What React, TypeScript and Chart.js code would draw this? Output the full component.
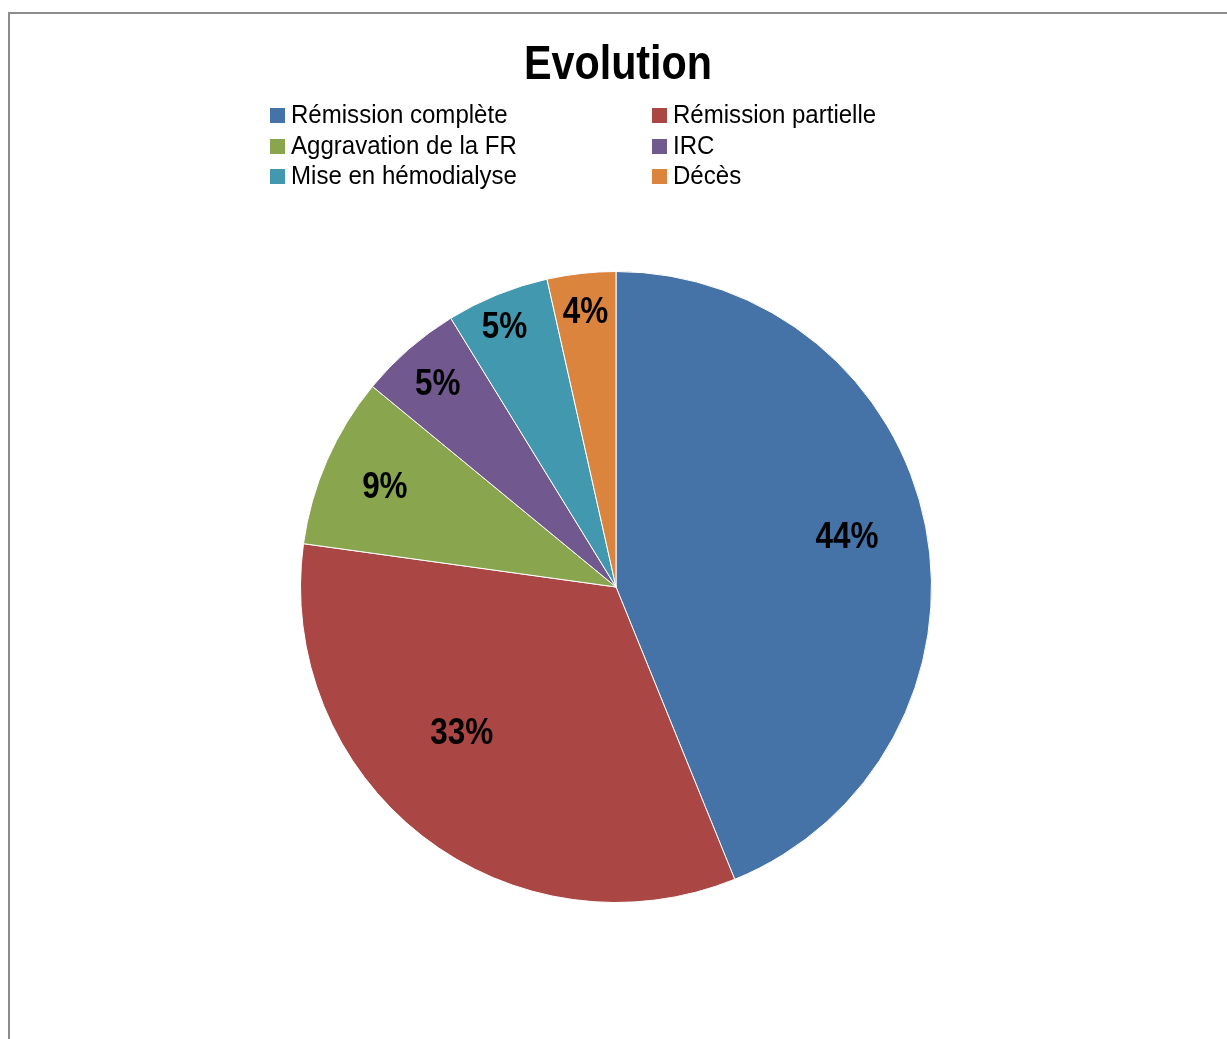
import React, { useEffect, useRef } from "react";
import { Chart, registerables } from "chart.js";

Chart.register(...registerables);

const TITLE = "Evolution";
const categories = [
  "Rémission complète",
  "Rémission partielle",
  "Aggravation de la FR",
  "IRC",
  "Mise en hémodialyse",
  "Décès",
];
const counts = [25, 19, 5, 3, 3, 2];
const colors = ["#4572A7", "#AA4643", "#89A54E", "#71588F", "#4198AF", "#DB843D"];

// label placement (styling): radial fraction and angle offset in degrees
const labelRadial = [0.75, 0.67, 0.8, 0.86, 0.9, 0.88];
const labelAngleOffset = [-1.5, 9, 0, 0, -1, 0];

const FONT = '"Liberation Sans Narrow", "Liberation Sans", Arial, sans-serif';

function drawText(ctx: CanvasRenderingContext2D, text: string, x: number, y: number, sx: number) {
  ctx.save();
  ctx.translate(x, y);
  ctx.scale(sx, 1);
  ctx.fillText(text, 0, 0);
  ctx.restore();
}

const decorPlugin = {
  id: "decor",
  afterDraw(chart: any) {
    const ctx = chart.ctx as CanvasRenderingContext2D;
    ctx.save();
    // title
    ctx.fillStyle = "#000";
    ctx.font = `bold 48px ${FONT}`;
    ctx.textAlign = "center";
    ctx.textBaseline = "alphabetic";
    drawText(ctx, TITLE, 608, 65, 0.86);
    // legend grid
    ctx.font = `26px ${FONT}`;
    ctx.textAlign = "left";
    ctx.textBaseline = "middle";
    const colX = [260, 642];
    const rowY = [101, 132, 162];
    categories.forEach((c, i) => {
      const x = colX[i % 2];
      const y = rowY[Math.floor(i / 2)];
      ctx.fillStyle = colors[i];
      ctx.fillRect(x, y - 7, 15, 15);
      ctx.fillStyle = "#000";
      drawText(ctx, c, x + 21, y + 1, 0.925);
    });
    // data labels
    const meta = chart.getDatasetMeta(0);
    const total = counts.reduce((a, b) => a + b, 0);
    ctx.font = `bold 37px ${FONT}`;
    ctx.textAlign = "center";
    ctx.textBaseline = "middle";
    ctx.fillStyle = "#000";
    meta.data.forEach((arc: any, i: number) => {
      const p = arc.getProps(["x", "y", "startAngle", "endAngle", "outerRadius"], true);
      const mid = (p.startAngle + p.endAngle) / 2 + (labelAngleOffset[i] * Math.PI) / 180;
      const r = p.outerRadius * labelRadial[i];
      const txt = Math.round((counts[i] / total) * 100) + "%";
      drawText(ctx, txt, p.x + Math.cos(mid) * r, p.y + Math.sin(mid) * r + 2, 0.85);
    });
    ctx.restore();
  },
};

export default function App() {
  const ref = useRef<HTMLCanvasElement>(null);
  useEffect(() => {
    document.body.style.overflow = "hidden";
    const chart = new Chart(ref.current!, {
      type: "pie",
      data: {
        labels: categories,
        datasets: [
          {
            data: counts,
            backgroundColor: colors,
            borderColor: "#ffffff",
            borderWidth: 1,
          },
        ],
      },
      options: {
        animation: false,
        responsive: false,
        layout: { padding: { top: 257, bottom: 136, left: 0, right: 5 } },
        plugins: {
          legend: { display: false },
          title: { display: false },
          tooltip: { enabled: false },
        },
      },
      plugins: [decorPlugin],
    });
    return () => chart.destroy();
  }, []);
  return (
    <div
      style={{
        position: "absolute",
        left: 8,
        top: 12,
        width: 1219,
        height: 1027,
        borderTop: "2px solid #8c8c8c",
        borderLeft: "2px solid #8c8c8c",
        boxSizing: "border-box",
        background: "#fff",
      }}
    >
      <canvas ref={ref} width={1217} height={1025} style={{ display: "block" }} />
    </div>
  );
}
